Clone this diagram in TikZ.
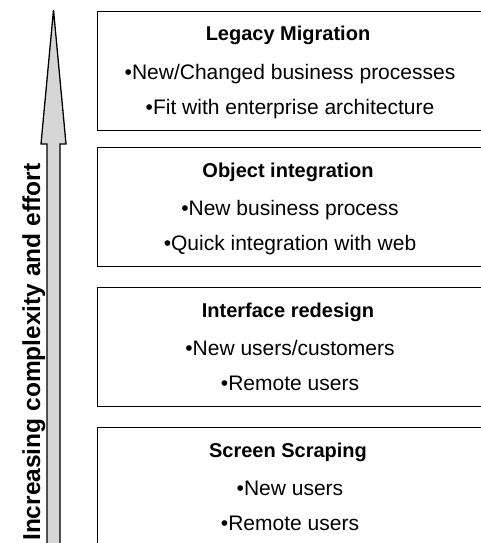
\documentclass[tikz,border=0pt]{standalone}
\usepackage{fontspec}
\setmainfont{Liberation Sans}
\begin{document}
\begin{tikzpicture}[x=1pt,y=-1pt]
\tikzset{
  stage/.style={draw=black, line width=1.3pt, minimum width=392pt, minimum height=119pt,
                anchor=north west, inner sep=0pt},
  stagetitle/.style={font=\fontsize{20}{24}\selectfont\bfseries, anchor=base, inner sep=0pt},
  stageitem/.style={font=\fontsize{21}{24}\selectfont, anchor=base, inner sep=0pt},
  effortarrow/.style={draw=black, fill=black!16, line width=1.3pt, line join=miter},
  axislabel/.style={font=\fontsize{24.5}{28}\selectfont\bfseries, rotate=90,
                    anchor=base west, inner sep=0pt}
}
\useasboundingbox (0,0) rectangle (481,543);
\begin{scope}
\clip (0,0) rectangle (481,543);

% upward arrow: increasing complexity
\draw[effortarrow] (53.5,10) -- (66,144) -- (60,144) -- (60,560)
  -- (47,560) -- (47,144) -- (41,144) -- cycle;
\node[axislabel] (axis) at (40,541) {Increasing complexity and effort};

% the four stages, top to bottom
\node[stage] (s1) at (97,11) {};
\node[stagetitle] (s1t) at (288,41) {Legacy Migration};
\node[stageitem] (s1a) at (290,79) {•New/Changed business processes};
\node[stageitem] (s1b) at (290,114) {•Fit with enterprise architecture};

\node[stage] (s2) at (97,147) {};
\node[stagetitle] (s2t) at (288,177) {Object integration};
\node[stageitem] (s2a) at (290,215) {•New business process};
\node[stageitem] (s2b) at (290,250) {•Quick integration with web};

\node[stage] (s3) at (97,287) {};
\node[stagetitle] (s3t) at (288,317) {Interface redesign};
\node[stageitem] (s3a) at (290,355) {•New users/customers};
\node[stageitem] (s3b) at (290,390) {•Remote users};

\node[stage] (s4) at (97,427) {};
\node[stagetitle] (s4t) at (288,457) {Screen Scraping};
\node[stageitem] (s4a) at (290,495) {•New users};
\node[stageitem] (s4b) at (290,530) {•Remote users};
\end{scope}
\end{tikzpicture}
\end{document}
